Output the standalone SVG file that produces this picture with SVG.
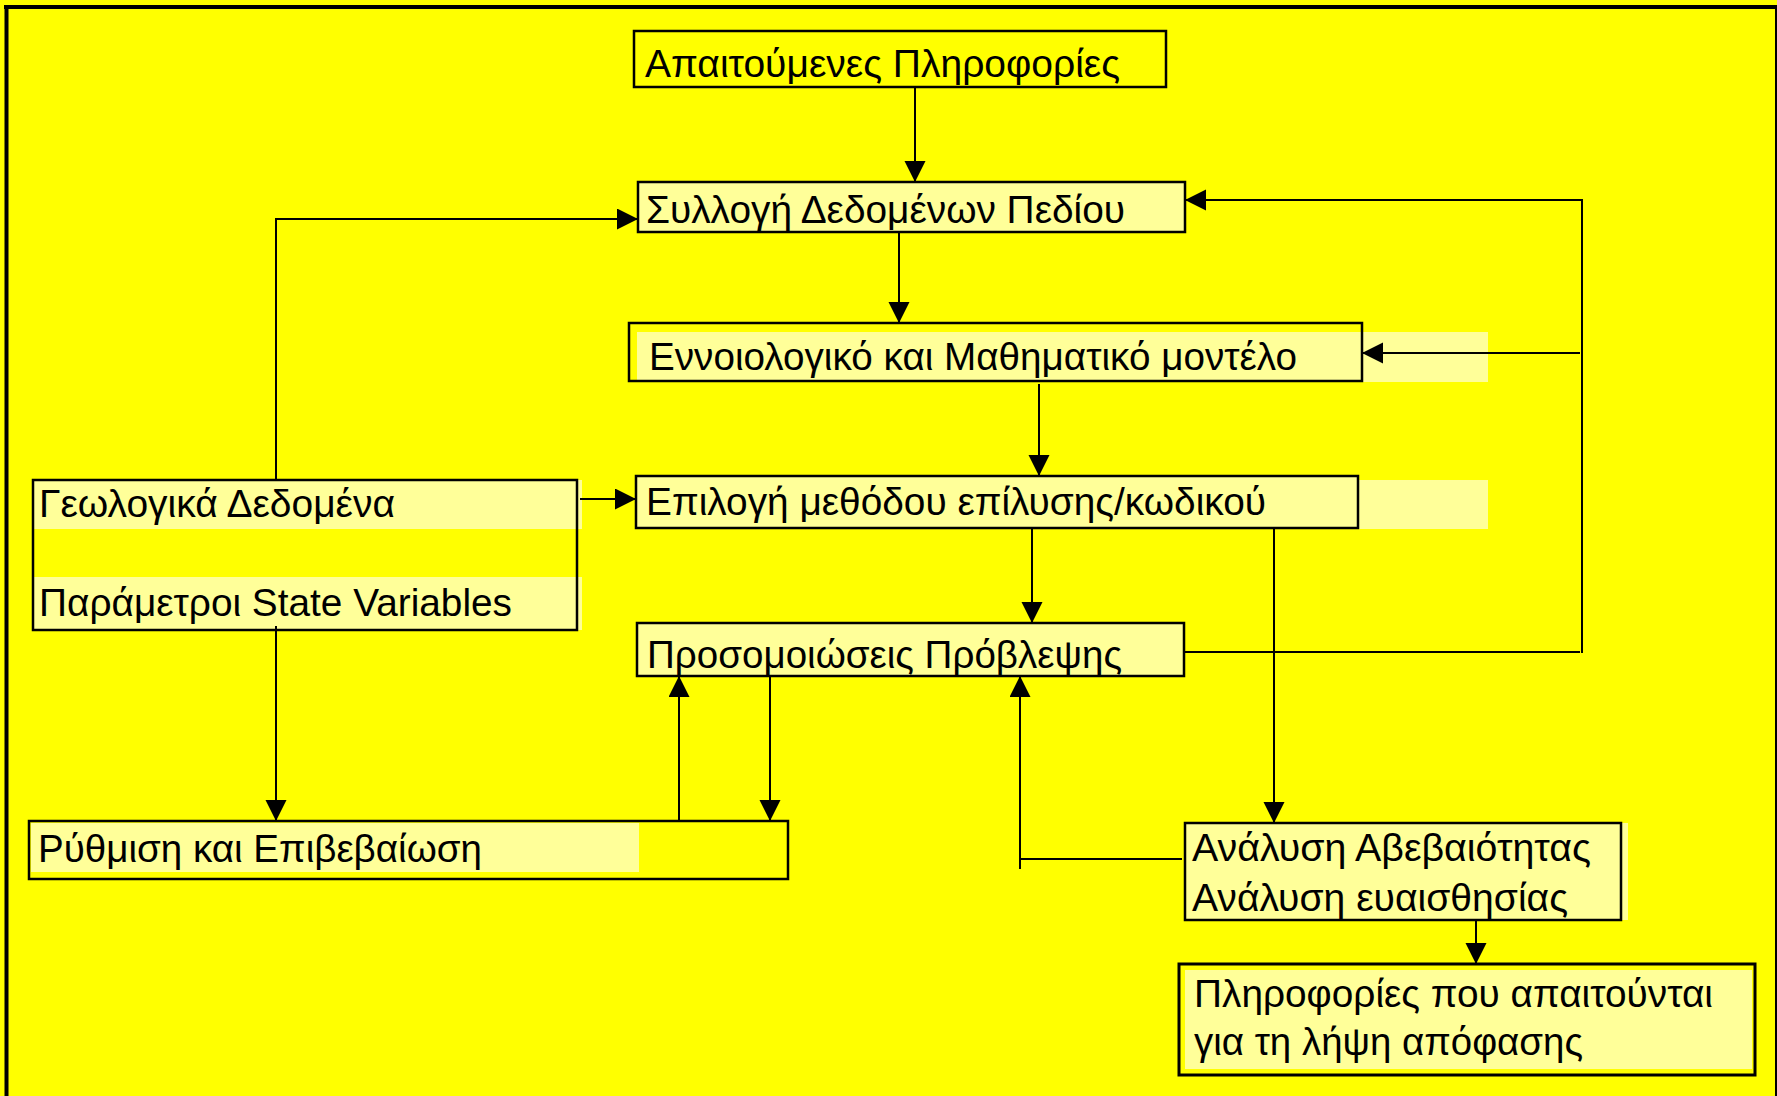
<svg xmlns="http://www.w3.org/2000/svg" width="1777" height="1096" viewBox="0 0 1777 1096">
<style>
.box{stroke:#000;stroke-width:2.5;}
.y{fill:#FFFF00;}
.l{fill:#FFFF99;}
.ln{fill:#FFFF99;stroke:none;}
.t{font-family:"Liberation Sans",Arial,sans-serif;font-size:39px;fill:#000;}
.c{fill:none;stroke:#000;stroke-width:2;}
</style>
<defs>
<marker id="ah" markerUnits="userSpaceOnUse" markerWidth="22" markerHeight="22" refX="21" refY="10.5" orient="auto" viewBox="0 0 22 22">
<path d="M0,0 L21,10.5 L0,21 z" fill="#000"/>
</marker>
</defs>
<rect x="0" y="0" width="1777" height="1096" fill="#FFFF00"/>
<g id="frame">
<line x1="4" y1="7" x2="1777" y2="7" stroke="#000" stroke-width="4"/>
<line x1="6.5" y1="5" x2="6.5" y2="1096" stroke="#000" stroke-width="4"/>
<line x1="1776" y1="7" x2="1776" y2="1096" stroke="#000" stroke-width="2"/>
</g>
<g id="n1">
<rect class="box y" x="634" y="31" width="532" height="56"/>
<text class="t" x="645" y="77" textLength="475" lengthAdjust="spacingAndGlyphs">Απαιτούμενες Πληροφορίες</text>
</g>
<g id="n2">
<rect class="box l" x="638" y="182" width="547" height="50"/>
<text class="t" x="646" y="223" textLength="479" lengthAdjust="spacingAndGlyphs">Συλλογή Δεδομένων Πεδίου</text>
</g>
<g id="n3">
<rect class="y" x="629" y="323" width="733" height="58"/>
<rect class="ln" x="637" y="332" width="851" height="50"/>
<rect class="box" fill="none" x="629" y="323" width="733" height="58"/>
<text class="t" x="649" y="370" textLength="648" lengthAdjust="spacingAndGlyphs">Εννοιολογικό και Μαθηματικό μοντέλο</text>
</g>
<g id="n4">
<rect class="ln" x="1358" y="480" width="130" height="49"/>
<rect class="box l" x="636" y="476" width="722" height="52"/>
<text class="t" x="646" y="515" textLength="620" lengthAdjust="spacingAndGlyphs">Επιλογή μεθόδου επίλυσης/κωδικού</text>
</g>
<g id="n5">
<rect class="y" x="33" y="480" width="544" height="150"/>
<rect class="ln" x="33" y="480" width="549" height="49"/>
<rect class="ln" x="33" y="577" width="549" height="53"/>
<rect class="box" fill="none" x="33" y="480" width="544" height="150"/>
<text class="t" x="39" y="517" textLength="356" lengthAdjust="spacingAndGlyphs">Γεωλογικά Δεδομένα</text>
<text class="t" x="39" y="616" textLength="473" lengthAdjust="spacingAndGlyphs">Παράμετροι State Variables</text>
</g>
<g id="n6">
<rect class="box l" x="637" y="623" width="547" height="53"/>
<text class="t" x="647" y="668" textLength="475" lengthAdjust="spacingAndGlyphs">Προσομοιώσεις Πρόβλεψης</text>
</g>
<g id="n7">
<rect class="ln" x="1185" y="823" width="443" height="97"/>
<rect class="box l" x="1185" y="823" width="436" height="97"/>
<text class="t" x="1192" y="861" textLength="399" lengthAdjust="spacingAndGlyphs">Ανάλυση Αβεβαιότητας</text>
<text class="t" x="1192" y="911" textLength="376" lengthAdjust="spacingAndGlyphs">Ανάλυση ευαισθησίας</text>
</g>
<g id="n8">
<rect class="y" x="1179" y="964" width="576" height="111" stroke="#000" stroke-width="3"/>
<rect class="ln" x="1185" y="970" width="567" height="99"/>
<text class="t" x="1194" y="1007" textLength="519" lengthAdjust="spacingAndGlyphs">Πληροφορίες που απαιτούνται</text>
<text class="t" x="1194" y="1055" textLength="389" lengthAdjust="spacingAndGlyphs">για τη λήψη απόφασης</text>
</g>
<g id="n9">
<rect class="y" x="29" y="821" width="759" height="58"/>
<rect class="ln" x="31" y="823" width="608" height="49"/>
<rect class="box" fill="none" x="29" y="821" width="759" height="58"/>
<text class="t" x="38" y="862" textLength="444" lengthAdjust="spacingAndGlyphs">Ρύθμιση και Επιβεβαίωση</text>
</g>
<g id="connectors">
<path class="c" d="M915,88 V182" marker-end="url(#ah)"/>
<path class="c" d="M899,233 V323" marker-end="url(#ah)"/>
<path class="c" d="M1039,384 V476" marker-end="url(#ah)"/>
<path class="c" d="M1032,529 V623" marker-end="url(#ah)"/>
<path class="c" d="M580,499 H636" marker-end="url(#ah)"/>
<path class="c" d="M276,479 V219 H638" marker-end="url(#ah)"/>
<path class="c" d="M276,626 V821" marker-end="url(#ah)"/>
<path class="c" d="M1582,653 V200 H1185" marker-end="url(#ah)"/>
<path class="c" d="M1580,353 H1362" marker-end="url(#ah)"/>
<path class="c" d="M1185,652 H1580"/>
<path class="c" d="M1274,529 V823" marker-end="url(#ah)"/>
<path class="c" d="M1182,859 H1020"/>
<path class="c" d="M1020,869 V676" marker-end="url(#ah)"/>
<path class="c" d="M679,822 V676" marker-end="url(#ah)"/>
<path class="c" d="M770,677 V821" marker-end="url(#ah)"/>
<path class="c" d="M1476,921 V964" marker-end="url(#ah)"/>
</g>
</svg>
